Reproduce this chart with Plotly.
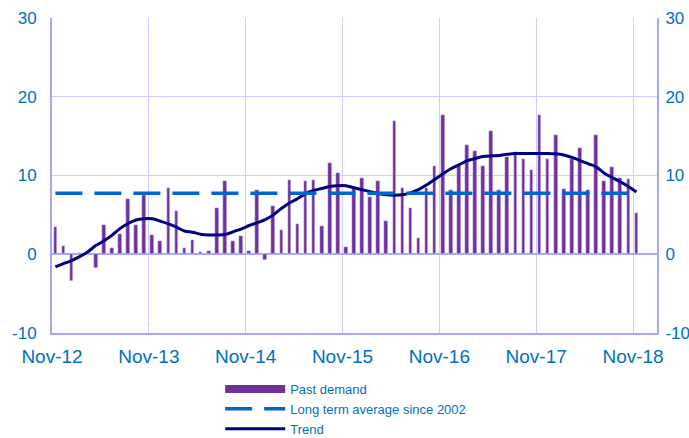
import plotly.graph_objects as go

# Months Nov-12 .. Nov-18 (index 0..72)
tick_labels = ["Nov-12", "Nov-13", "Nov-14", "Nov-15", "Nov-16", "Nov-17", "Nov-18"]
tick_months = [0, 12, 24, 36, 48, 60, 72]
y_ticks = [-10, 0, 10, 20, 30]
y_tick_labels = ["-10", "0", "10", "20", "30"]

past_demand = [
    3.5, 1.0, -3.4, 0.1, 0.0, -1.8, 3.7, 0.85, 2.6, 7.05, 3.7, 7.55,
    2.4, 1.65, 8.45, 5.45, 0.8, 1.85, 0.25, 0.45, 5.85, 9.25, 1.65, 2.3,
    0.45, 8.1, -0.75, 6.1, 3.05, 9.45, 3.9, 9.3, 9.45, 3.65, 11.55, 10.3,
    0.9, 8.5, 9.65, 7.25, 9.3, 4.25, 16.9, 8.45, 5.85, 2.05, 8.45, 11.25,
    17.7, 8.1, 11.2, 13.9, 13.1, 11.25, 15.7, 8.1, 12.4, 13.0, 12.05, 10.65,
    17.7, 12.05, 15.1, 8.3, 12.05, 13.45, 8.1, 15.1, 9.3, 11.1, 9.65, 9.5,
    5.25,
]

trend = [
    -1.6, -1.2, -0.8, -0.3, 0.3, 1.1, 1.7, 2.4, 3.25, 3.9, 4.35, 4.5,
    4.5, 4.2, 3.85, 3.45, 2.95, 2.8, 2.55, 2.45, 2.45, 2.5, 2.85, 3.2,
    3.65, 4.0, 4.4, 5.0, 5.8, 6.5, 7.05, 7.7, 8.1, 8.35, 8.6, 8.7,
    8.7, 8.45, 8.2, 7.95, 7.7, 7.55, 7.5, 7.55, 7.8, 8.2, 8.8, 9.5,
    10.2, 10.85, 11.35, 11.85, 12.15, 12.4, 12.5, 12.55, 12.7, 12.8, 12.8, 12.8,
    12.8, 12.8, 12.75, 12.6, 12.3, 11.9, 11.5, 11.1, 10.3, 9.75, 9.2, 8.6,
    7.9,
]

long_term_average = 7.75

months = list(range(len(past_demand)))
avg_line = [long_term_average] * len(months)

PURPLE = "#7030A0"
BLUE = "#0066CC"
NAVY = "#000080"
TEXT = "#0070C0"
GRID = "#CCCCFF"
AXIS = "#A6A6F5"

tick_offset = -0.42
tickvals = [m + tick_offset for m in tick_months]

fig = go.Figure()
fig.add_trace(go.Bar(x=months, y=past_demand, marker_color=PURPLE, width=0.45,
                     showlegend=False, name="Past demand"))
fig.add_trace(go.Scatter(x=[None], y=[None], mode="lines", name="Past demand",
                         line=dict(color=PURPLE, width=8)))
fig.add_trace(go.Scatter(x=months, y=avg_line, mode="lines", yaxis="y2",
                         name="Long term average since 2002",
                         line=dict(color=BLUE, width=3.5, dash="27px,12px")))
fig.add_trace(go.Scatter(x=months, y=trend, mode="lines", name="Trend",
                         line=dict(color=NAVY, width=3, shape="spline")))

yr = [-10, 30]
font = "Liberation Sans, Arial, sans-serif"
fig.update_layout(
    width=689, height=438,
    margin=dict(l=52, r=32, t=18, b=105, autoexpand=False),
    plot_bgcolor="white", paper_bgcolor="white",
    bargap=0,
    font=dict(family=font, color=TEXT),
    xaxis=dict(range=[-0.42, 74.55], tickmode="array", tickvals=tickvals,
               ticktext=tick_labels, showgrid=True, gridcolor=GRID, gridwidth=1,
               showline=True, linecolor=AXIS, linewidth=2, ticks="",
               tickfont=dict(size=19, color=TEXT), zeroline=False,
               ticklabelstandoff=5, automargin=False),
    yaxis=dict(range=yr, tickmode="array", tickvals=y_ticks, ticktext=y_tick_labels,
               showgrid=True, gridcolor=GRID, gridwidth=1, showline=True,
               linecolor=AXIS, linewidth=2, zeroline=True, zerolinecolor=AXIS,
               zerolinewidth=2, tickfont=dict(size=17, color=TEXT), ticks="",
               ticklabelstandoff=10, automargin=False),
    yaxis2=dict(range=yr, overlaying="y", side="right", tickmode="array",
                tickvals=y_ticks, ticktext=y_tick_labels, showgrid=False,
                showline=True, linecolor=AXIS, linewidth=2, zeroline=False,
                tickfont=dict(size=17, color=TEXT), ticks="", ticklabelstandoff=3,
                automargin=False),
    legend=dict(x=0.278, y=-0.13, xanchor="left", yanchor="top",
                font=dict(size=13, color=TEXT), itemwidth=60,
                bgcolor="rgba(0,0,0,0)", tracegroupgap=0),
)

fig.write_html("out.html", config={"displayModeBar": False},
               post_script="document.body.style.margin='0px';document.body.style.overflow='hidden';")
